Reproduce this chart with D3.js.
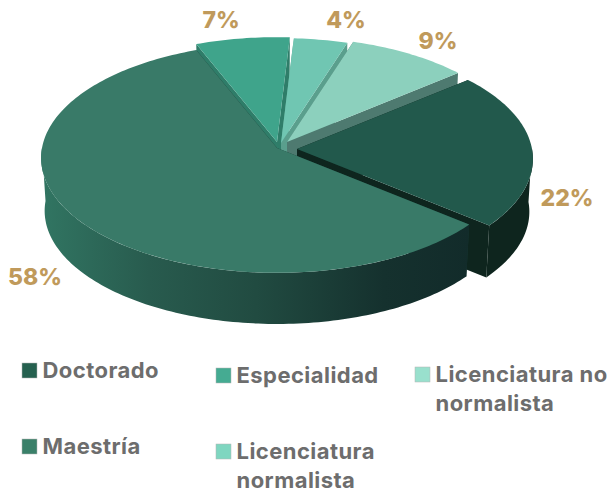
<!DOCTYPE html>
<html lang="es">
<head>
<meta charset="UTF-8">
<title>Pie</title>
<script src="https://d3js.org/d3.v7.min.js"></script>
<style>
    html, body { margin: 0; padding: 0; background: #fff; overflow: hidden; }
    text { font-family: Inter, sans-serif; font-weight: 700; }
</style>
</head>
<body>
<svg id="chart" width="608" height="494"></svg>
<script>
// order is clockwise, same as the legend columns
const categories = ["Doctorado", "Maestría", "Especialidad", "Licenciatura normalista", "Licenciatura no normalista"];
const values = [22, 58, 7, 4, 9];
const valueLabels = ["22%", "58%", "7%", "4%", "9%"];
const legendLines = [["Doctorado"], ["Maestría"], ["Especialidad"], ["Licenciatura", "normalista"], ["Licenciatura no", "normalista"]];

const topColors = ["#22594c", "#397a68", "#3fa48b", "#70c6b2", "#8cd0bd"];
const legendColors = ["#25604f", "#3a8069", "#45ab92", "#7fd6c0", "#99e0cd"];
const faceColors = ["#0e251e", "#163a33", "#2f7d69", "#5a9f8d", "#4e7a70"];

// layout
const apexes = [[297, 149], [277, 148], [277, 142], [281, 143], [287, 142]];
const labelPos = [[567, 198], [35, 277], [221, 20], [346, 20], [438, 41]];
const legendPos = [[22, 378], [22, 454], [216, 383], [216, 459], [415, 382]];
const radius = 235, tilt = 0.485, persp = 0.087, depth = 53, bottomScale = 0.985;

const svg = d3.select("#chart");

const grad = svg.append("defs").append("linearGradient")
    .attr("id", "wall")
    .attr("gradientUnits", "userSpaceOnUse")
    .attr("x1", 42).attr("x2", 470).attr("y1", 0).attr("y2", 0);
[[0, "#317562"], [0.25, "#285b4e"], [0.5, "#214b41"], [0.8, "#15312e"], [1, "#122b2a"]].forEach(s => {
    grad.append("stop").attr("offset", s[0]).attr("stop-color", s[1]);
});

const slices = d3.pie().sort(null).value(d => d)
    .startAngle(50.2 * Math.PI / 180)
    .endAngle((50.2 + 360) * Math.PI / 180)(values);

const line = d3.line();

function project(apex, a, low) {
    const v = -Math.cos(a);
    const s = 1 / (1 - persp * v) * (low ? bottomScale : 1);
    return [
        apex[0] + radius * Math.sin(a) * s,
        apex[1] + radius * tilt * v * s + (low ? depth : 0)
    ];
}

function arcPoints(apex, a0, a1, low) {
    const n = Math.ceil((a1 - a0) / 0.02);
    return d3.range(n + 1).map(i => project(apex, a0 + (a1 - a0) * i / n, low));
}

function drawSlice(i) {
    const d = slices[i], apex = apexes[i];
    const g = svg.append("g");
    const apexLow = [apex[0], apex[1] + depth];

    // cut faces
    [d.startAngle, d.endAngle].forEach(a => {
        g.append("path")
            .attr("d", line([apex, project(apex, a, false), project(apex, a, true), apexLow]) + "Z")
            .attr("fill", faceColors[i]);
    });

    // outer wall, only the front half shows (ends on the silhouette)
    const w0 = Math.max(d.startAngle, Math.PI / 2);
    const w1 = Math.min(d.endAngle, Math.PI * 1.5);
    if (w1 > w0) {
        const upper = arcPoints(apex, w0, w1, false);
        const lower = arcPoints(apex, w0, w1, true).reverse();
        g.append("path")
            .attr("d", line(upper.concat(lower)) + "Z")
            .attr("fill", i === 1 ? "url(#wall)" : faceColors[i]);
    }

    // top
    g.append("path")
        .attr("d", line([apex].concat(arcPoints(apex, d.startAngle, d.endAngle, false))) + "Z")
        .attr("fill", topColors[i]);
}

// back to front, the small slices overlap each other left to right
[2, 3, 4, 0, 1].forEach(drawSlice);

svg.append("g").selectAll("text")
    .data(valueLabels)
    .enter().append("text")
    .attr("x", (d, i) => labelPos[i][0])
    .attr("y", (d, i) => labelPos[i][1])
    .attr("dy", "0.36em")
    .attr("text-anchor", "middle")
    .attr("font-size", 23)
    .style("font-weight", 800)
    .attr("fill", "#c09a5b")
    .text(d => d);

const legend = svg.append("g").selectAll("g")
    .data(categories)
    .enter().append("g")
    .attr("transform", (d, i) => `translate(${legendPos[i][0]},${legendPos[i][1]})`);

legend.append("rect")
    .attr("y", -15)
    .attr("width", 15)
    .attr("height", 15)
    .attr("fill", (d, i) => legendColors[i])
    .attr("stroke", "#b5b5b5")
    .attr("stroke-width", 0.5);

legend.each(function (d, i) {
    legendLines[i].forEach((t, j) => {
        d3.select(this).append("text")
            .attr("x", 20.5)
            .attr("y", j * 29)
            .attr("font-size", 22)
            .attr("letter-spacing", 0.45)
            .attr("fill", "#6d6d6d")
            .text(t);
    });
});
</script>
</body>
</html>
